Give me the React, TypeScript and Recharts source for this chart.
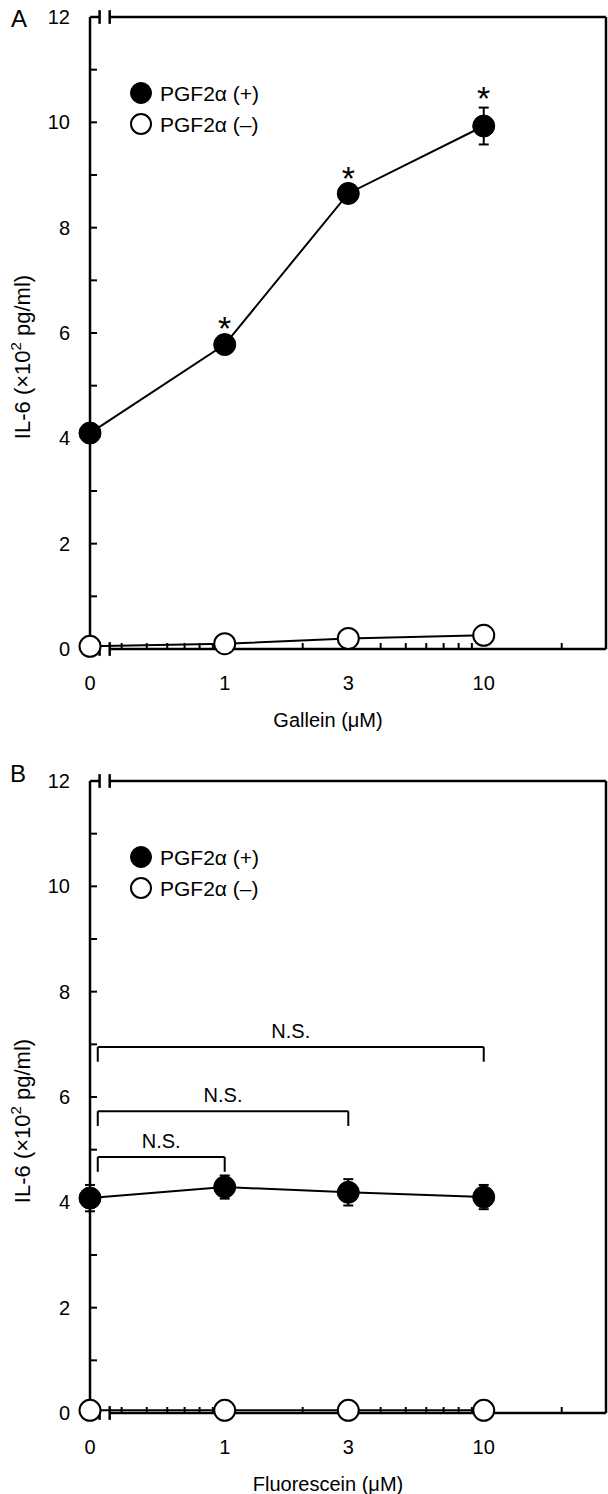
import React from 'react';
import { ComposedChart, Line, Scatter, XAxis, YAxis, ErrorBar, ReferenceLine } from 'recharts';

// concentrations (µM) and their tick labels
const CONC = [0, 1, 3, 10];
const CONC_LABELS = ['0', '1', '3', '10'];
// minor ticks on the log part of the x axis
const MINOR_TICKS = [0.4, 0.5, 0.6, 0.7, 0.8, 0.9, 1, 2, 3, 4, 5, 6, 7, 8, 9, 10, 20];
const Y_TICKS = [0, 1, 2, 3, 4, 5, 6, 7, 8, 9, 10, 11, 12];

// panel A: gallein
const GALLEIN_PLUS = [4.1, 5.78, 8.65, 9.93];
const GALLEIN_PLUS_ERR = [0.12, 0.14, 0.12, 0.35];
const GALLEIN_MINUS = [0.05, 0.1, 0.2, 0.26];
const GALLEIN_SIG = [false, true, true, true];

// panel B: fluorescein
const FLUO_PLUS = [4.08, 4.29, 4.19, 4.1];
const FLUO_PLUS_ERR = [0.25, 0.22, 0.25, 0.23];
const FLUO_MINUS = [0.05, 0.05, 0.05, 0.05];
const FLUO_SIG = [false, false, false, false];
const BRACKET_TO = [1, 3, 10];
const BRACKET_Y = [4.86, 5.73, 6.95];

const W = 608;
const H = 764;
const FONT = '"Liberation Sans", Arial, Helvetica, sans-serif';
const ZERO_POS = -0.52; // where "0" sits on the broken log axis
const X_MAX = 1.472;
const BREAK_L = -0.483;
const BREAK_R = -0.444;
const BR_LEFT = ZERO_POS + 0.03;

const xPos = (c: number) => (c === 0 ? ZERO_POS : Math.log10(c));
const BOTTOM_TICKS = [ZERO_POS, ...MINOR_TICKS.map((t) => Math.log10(t))];
const TOP_TICKS = MINOR_TICKS.map((t) => Math.log10(t));

const near = (a: number, b: number) => Math.abs(a - b) < 1e-9;

const BottomTick = (props: any) => {
  const { x, y, payload } = props;
  const v = payload.value;
  const idx = CONC.findIndex((c) => near(xPos(c), v));
  return (
    <g>
      {/* ticks under the data points are hidden by the markers */}
      {idx < 0 && <line x1={x} x2={x} y1={y} y2={y - 6} stroke="#000" strokeWidth={2} />}
      {idx >= 0 && (
        <text x={x} y={y + 41} textAnchor="middle" fontSize={20} fontFamily={FONT} fill="#000">
          {CONC_LABELS[idx]}
        </text>
      )}
    </g>
  );
};

const TopTick = (props: any) => {
  const { x, y } = props;
  return <line x1={x} x2={x} y1={y} y2={y + 6} stroke="#000" strokeWidth={2} />;
};

const LeftTick = (props: any) => {
  const { x, y, payload } = props;
  return (
    <g>
      {payload.value !== 0 && <line x1={x} x2={x + 7} y1={y} y2={y} stroke="#000" strokeWidth={2} />}
      {payload.value % 2 === 0 && (
        <text x={x - 20} y={y + 7} textAnchor="end" fontSize={20} fontFamily={FONT} fill="#000">
          {payload.value}
        </text>
      )}
    </g>
  );
};

const RightTick = (props: any) => {
  const { x, y } = props;
  return <line x1={x} x2={x - 7} y1={y} y2={y} stroke="#000" strokeWidth={2} />;
};

const StarShape = (props: any) => {
  const { cx, cy } = props;
  return (
    <text x={cx} y={cy + 20} textAnchor="middle" fontSize={34} fontFamily={FONT} fill="#000">
      *
    </text>
  );
};

const AX = { xAxisId: 'b', yAxisId: 'l' };
const axisLine = { stroke: '#000', strokeWidth: 2.5, ifOverflow: 'visible' as const };

function Panel(props: {
  plus: number[];
  plusErr: number[];
  minus: number[];
  sig: boolean[];
  brackets: boolean;
}) {
  const rows = CONC.map((c, i) => ({
    x: xPos(c),
    plus: props.plus[i],
    plusErr: props.plusErr[i],
    minus: props.minus[i],
  }));
  const stars = CONC.map((c, i) => ({
    x: xPos(c),
    starY: props.plus[i] + props.plusErr[i] + 0.33,
    sig: props.sig[i],
  })).filter((r) => r.sig);

  return (
    <ComposedChart width={W} height={H} data={rows} margin={{ top: 17, right: 2, bottom: 0, left: 0 }}>
      <XAxis
        xAxisId="b"
        type="number"
        dataKey="x"
        domain={[ZERO_POS, X_MAX]}
        ticks={BOTTOM_TICKS}
        interval={0}
        tick={<BottomTick />}
        tickLine={false}
        axisLine={false}
        tickSize={0}
        tickMargin={0}
        height={115}
      />
      <XAxis
        xAxisId="t"
        orientation="top"
        type="number"
        dataKey="x"
        domain={[ZERO_POS, X_MAX]}
        ticks={TOP_TICKS}
        interval={0}
        tick={<TopTick />}
        tickLine={false}
        axisLine={false}
        tickSize={0}
        tickMargin={0}
        height={0}
      />
      <YAxis
        yAxisId="l"
        type="number"
        domain={[0, 12]}
        ticks={Y_TICKS}
        interval={0}
        tick={<LeftTick />}
        tickLine={false}
        axisLine={false}
        tickSize={0}
        tickMargin={0}
        width={90}
      />
      <YAxis
        yAxisId="r"
        orientation="right"
        type="number"
        domain={[0, 12]}
        ticks={Y_TICKS}
        interval={0}
        tick={<RightTick />}
        tickLine={false}
        axisLine={false}
        tickSize={0}
        tickMargin={0}
        width={0}
      />

      {/* frame with axis break */}
      <ReferenceLine {...AX} {...axisLine} segment={[{ x: ZERO_POS, y: 0 }, { x: ZERO_POS, y: 12 }]} />
      <ReferenceLine {...AX} {...axisLine} segment={[{ x: X_MAX, y: 0 }, { x: X_MAX, y: 12 }]} />
      {[0, 12].map((yy) => (
        <React.Fragment key={yy}>
          <ReferenceLine {...AX} {...axisLine} segment={[{ x: ZERO_POS, y: yy }, { x: BREAK_L, y: yy }]} />
          <ReferenceLine {...AX} {...axisLine} segment={[{ x: BREAK_R, y: yy }, { x: X_MAX, y: yy }]} />
          <ReferenceLine {...AX} {...axisLine} segment={[{ x: BREAK_L, y: yy - 0.13 }, { x: BREAK_L, y: yy + 0.13 }]} />
          <ReferenceLine {...AX} {...axisLine} segment={[{ x: BREAK_R, y: yy - 0.13 }, { x: BREAK_R, y: yy + 0.13 }]} />
        </React.Fragment>
      ))}

      {props.brackets &&
        BRACKET_TO.map((to, i) => (
          <React.Fragment key={to}>
            <ReferenceLine
              {...AX}
              stroke="#000"
              strokeWidth={2}
              segment={[{ x: BR_LEFT, y: BRACKET_Y[i] }, { x: xPos(to), y: BRACKET_Y[i] }]}
              label={{ value: 'N.S.', position: 'top', offset: 9, fill: '#000', fontSize: 20, fontFamily: FONT }}
            />
            <ReferenceLine {...AX} stroke="#000" strokeWidth={2} segment={[{ x: BR_LEFT, y: BRACKET_Y[i] }, { x: BR_LEFT, y: BRACKET_Y[i] - 0.28 }]} />
            <ReferenceLine {...AX} stroke="#000" strokeWidth={2} segment={[{ x: xPos(to), y: BRACKET_Y[i] }, { x: xPos(to), y: BRACKET_Y[i] - 0.28 }]} />
          </React.Fragment>
        ))}

      <Line
        {...AX}
        dataKey="minus"
        stroke="#000"
        strokeWidth={2}
        dot={{ r: 10.5, fill: '#fff', stroke: '#000', strokeWidth: 2 }}
        activeDot={false}
        isAnimationActive={false}
      />
      <Line
        {...AX}
        dataKey="plus"
        stroke="#000"
        strokeWidth={2}
        dot={{ r: 11, fill: '#000', stroke: '#000', strokeWidth: 1 }}
        activeDot={false}
        isAnimationActive={false}
      >
        <ErrorBar dataKey="plusErr" width={5} stroke="#000" strokeWidth={2} direction="y" />
      </Line>
      {stars.length > 0 && (
        <Scatter {...AX} data={stars} dataKey="starY" shape={<StarShape />} isAnimationActive={false} />
      )}
    </ComposedChart>
  );
}

const Legend = ({ top }: { top: number }) => (
  <g fontFamily={FONT} fontSize={21} fill="#000">
    <circle cx={141} cy={top} r={10.5} fill="#000" stroke="#000" strokeWidth={1} />
    <text x={160} y={top + 7.5}>PGF2α (+)</text>
    <circle cx={141} cy={top + 31} r={10} fill="#fff" stroke="#000" strokeWidth={2} />
    <text x={160} y={top + 38.5}>PGF2α (–)</text>
  </g>
);

const YTitle = ({ cy }: { cy: number }) => (
  <text transform={`translate(30,${cy}) rotate(-90)`} textAnchor="middle" fontFamily={FONT} fontSize={22} fill="#000">
    IL-6 (×10
    <tspan dy={-9} fontSize={15}>2</tspan>
    <tspan dy={9}> pg/ml)</tspan>
  </text>
);

export default function App() {
  return (
    <div style={{ position: 'absolute', left: 0, top: 0, width: 608, height: 1494, background: '#fff' }}>
      <div style={{ position: 'absolute', left: 0, top: 0 }}>
        <Panel plus={GALLEIN_PLUS} plusErr={GALLEIN_PLUS_ERR} minus={GALLEIN_MINUS} sig={GALLEIN_SIG} brackets={false} />
      </div>
      <div style={{ position: 'absolute', left: 0, top: H }}>
        <Panel plus={FLUO_PLUS} plusErr={FLUO_PLUS_ERR} minus={FLUO_MINUS} sig={FLUO_SIG} brackets={true} />
      </div>
      <svg width={608} height={1494} style={{ position: 'absolute', left: 0, top: 0, pointerEvents: 'none' }}>
        <text x={11} y={27} fontFamily={FONT} fontSize={24} fill="#000">A</text>
        <text x={10} y={782} fontFamily={FONT} fontSize={24} fill="#000">B</text>
        <YTitle cy={357} />
        <YTitle cy={357 + H} />
        <text x={328} y={727} textAnchor="middle" fontFamily={FONT} fontSize={20} fill="#000">Gallein (μM)</text>
        <text x={328} y={1491} textAnchor="middle" fontFamily={FONT} fontSize={20} fill="#000">Fluorescein (μM)</text>
        <Legend top={93} />
        <Legend top={93 + H} />
      </svg>
    </div>
  );
}
